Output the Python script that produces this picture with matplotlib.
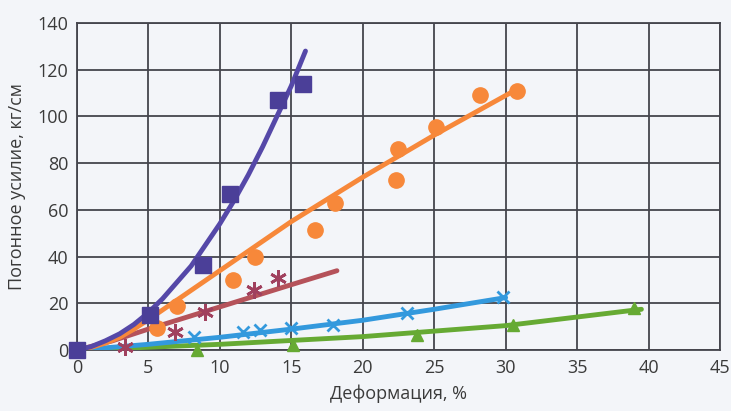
import matplotlib.pyplot as plt

# measured points (deformation %, force kg/cm)
sq_x = [0, 5.1, 8.8, 10.7, 14.1, 15.8]
sq_y = [0, 15, 36.5, 67, 107, 114]
sq_fit_x = [0, 1, 2, 3, 4, 5, 6, 7, 8, 9, 10, 11, 12, 13, 14, 15, 16]
sq_fit_y = [0, 1.5, 4, 7, 11, 16, 22, 29, 36, 45, 54, 64, 75, 87, 100, 113, 128]

circ_x = [5.6, 7.0, 10.9, 12.5, 16.7, 18.1, 22.3, 22.5, 25.1, 28.2, 30.8]
circ_y = [9.4, 18.8, 30, 40, 51.4, 63, 72.8, 86, 95.5, 109, 111]
circ_fit_x = [0, 1, 2, 3, 4, 5, 7.5, 10, 15, 20, 25, 30.3]
circ_fit_y = [0, 1.2, 3, 5.5, 9, 13, 23.5, 34, 55, 74, 92, 110]

star_x = [3.4, 6.9, 9.0, 12.4, 14.1]
star_y = [1.3, 7.7, 16.3, 25.7, 30.8]
star_fit_x = [0, 2.5, 5, 10, 15, 18.2]
star_fit_y = [0, 4, 9, 18.5, 28, 34]

cross_x = [8.2, 11.6, 12.8, 15.0, 17.9, 23.1, 29.8]
cross_y = [5.6, 7.7, 8.6, 9.4, 10.7, 15.8, 22.7]
cross_fit_x = [0, 5, 10, 15, 20, 25, 30]
cross_fit_y = [0, 2.5, 5.5, 9, 12.8, 17.5, 22.5]

tri_x = [8.4, 15.1, 23.8, 30.5, 39.0]
tri_y = [0, 2, 6.4, 10.7, 18]
tri_fit_x = [0, 10, 20, 30, 39.5]
tri_fit_y = [0, 2.5, 5.8, 10.5, 17.5]

bg = '#f3f5f9'
grid_c = '#45454d'
text_c = '#3a3a3a'

plt.rcParams['font.family'] = ['Open Sans', 'DejaVu Sans']

fig = plt.figure(figsize=(7.31, 4.11), dpi=100, facecolor=bg)
ax = fig.add_axes([0.105, 0.148, 0.88, 0.796])
ax.set_facecolor(bg)

# trend lines
ax.plot(tri_fit_x, tri_fit_y, color='#66aa33', lw=3.5, zorder=3, solid_capstyle='round')
ax.plot(cross_fit_x, cross_fit_y, color='#3399dd', lw=3.5, zorder=3, solid_capstyle='round')
ax.plot(star_fit_x, star_fit_y, color='#b5525a', lw=3.5, zorder=3, solid_capstyle='round')
ax.plot(circ_fit_x, circ_fit_y, color='#f7883a', lw=3.5, zorder=3, solid_capstyle='round')
ax.plot(sq_fit_x, sq_fit_y, color='#5548a8', lw=3.5, zorder=3, solid_capstyle='round')

# markers
ax.plot(tri_x, tri_y, ls='none', marker='^', ms=9, color='#66aa33', zorder=4, clip_on=False)
ax.plot(cross_x, cross_y, ls='none', marker='x', ms=9, mew=2, color='#3399dd', zorder=4, clip_on=False)
ax.plot(star_x, star_y, ls='none', marker=(6, 2, 0), ms=12, mew=2, color='#a0405e', zorder=4, clip_on=False)
ax.plot(circ_x, circ_y, ls='none', marker='o', ms=11, color='#f7883a', zorder=4, clip_on=False)
ax.plot(sq_x, sq_y, ls='none', marker='s', ms=12, color='#4b3f98', zorder=4, clip_on=False)

ax.set_xlim(0, 45)
ax.set_ylim(0, 140)
ax.set_xticks(range(0, 46, 5))
ax.set_yticks(range(0, 141, 20))
ax.grid(True, color=grid_c, lw=1.3)
ax.set_axisbelow(True)
for s in ax.spines.values():
    s.set_color(grid_c)
    s.set_linewidth(1.3)
ax.tick_params(length=0, pad=6, labelsize=13, labelcolor=text_c)

ax.set_xlabel('Деформация, %', fontsize=13, color=text_c, labelpad=6)
ax.set_ylabel('Погонное усилие, кг/см', fontsize=13, color=text_c, labelpad=8)

fig.savefig('out.png', dpi=100, facecolor=bg)
